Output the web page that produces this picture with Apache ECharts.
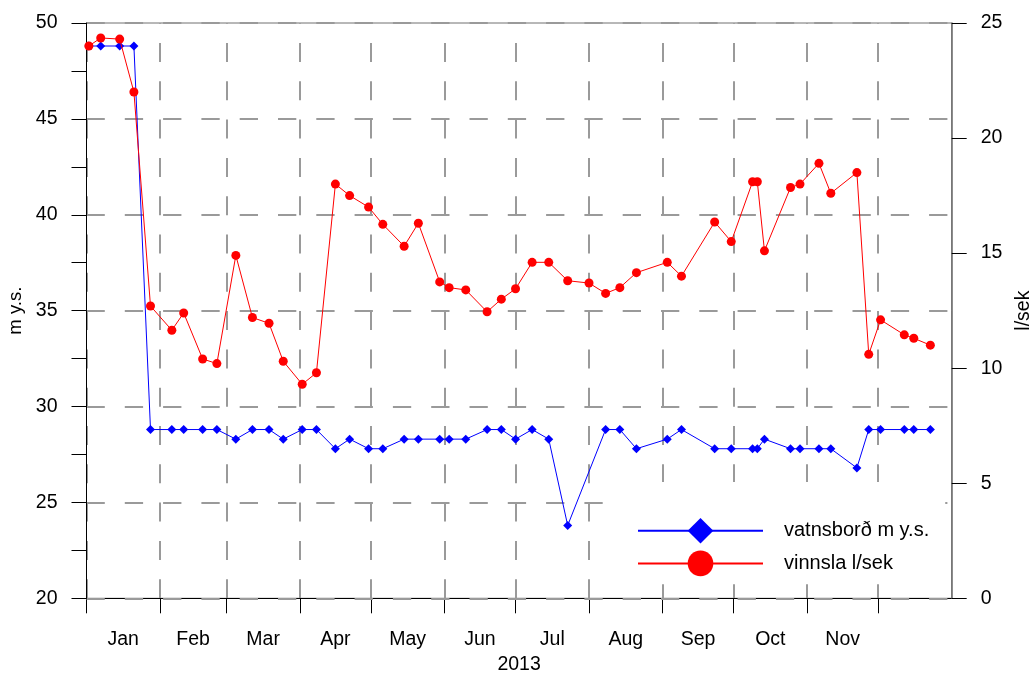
<!DOCTYPE html>
<html>
<head>
<meta charset="utf-8">
<script src="https://cdn.jsdelivr.net/npm/echarts@6/dist/echarts.min.js"></script>
<style>
html,body{margin:0;padding:0;background:#fff;}
#chart{width:1030px;height:673px;}
</style>
</head>
<body>
<div id="chart"></div>
<script>
// ---- data ----
const dates = [
  '2013-01-02','2013-01-07','2013-01-15','2013-01-21','2013-01-28',
  '2013-02-06','2013-02-11','2013-02-19','2013-02-25',
  '2013-03-05','2013-03-12','2013-03-19','2013-03-25',
  '2013-04-02','2013-04-08','2013-04-16','2013-04-22','2013-04-30',
  '2013-05-06','2013-05-15','2013-05-21','2013-05-30',
  '2013-06-03','2013-06-10','2013-06-19','2013-06-25',
  '2013-07-01','2013-07-08','2013-07-15','2013-07-23',
  '2013-08-01','2013-08-08','2013-08-14','2013-08-21',
  '2013-09-03','2013-09-09','2013-09-23','2013-09-30',
  '2013-10-09','2013-10-11','2013-10-14','2013-10-25','2013-10-29',
  '2013-11-06','2013-11-11','2013-11-22','2013-11-27',
  '2013-12-02','2013-12-12','2013-12-16','2013-12-23'
];
// vatnsborð m y.s. (left axis)
const vatnsbord = [
  48.8,48.8,48.8,48.8,28.8,
  28.8,28.8,28.8,28.8,
  28.3,28.8,28.8,28.3,
  28.8,28.8,27.8,28.3,27.8,
  27.8,28.3,28.3,28.3,
  28.3,28.3,28.8,28.8,
  28.3,28.8,28.3,23.8,
  null,28.8,28.8,27.8,
  28.3,28.8,27.8,27.8,
  27.8,27.8,28.3,27.8,27.8,
  27.8,27.8,26.8,28.8,
  28.8,28.8,28.8,28.8
];
// vinnsla l/sek (right axis)
const vinnsla = [
  24.0,24.35,24.3,22.0,12.7,
  11.65,12.4,10.4,10.2,
  14.9,12.2,11.95,10.3,
  9.3,9.8,18.0,17.5,17.0,
  16.25,15.3,16.3,13.75,
  13.5,13.4,12.45,13.0,
  13.45,14.6,14.6,13.8,
  13.7,13.25,13.5,14.15,
  14.6,14.0,16.35,15.5,
  18.1,18.1,15.1,17.85,18.0,
  18.9,17.6,18.5,10.6,
  12.1,11.45,11.3,11.0
];
const monthStarts = ['2013-01-01','2013-02-01','2013-03-01','2013-04-01','2013-05-01','2013-06-01',
  '2013-07-01','2013-08-01','2013-09-01','2013-10-01','2013-11-01','2013-12-01','2014-01-01'];
const monthLabels = ['Jan','Feb','Mar','Apr','May','Jun','Jul','Aug','Sep','Oct','Nov',''];
const xName = '2013';
const leftName = 'm y.s.';
const rightName = 'l/sek';
const seriesNames = ['vatnsborð m y.s.','vinnsla l/sek'];

// ---- build ----
const ts = s => echarts.time.parse(s).getTime();
const startTs = monthStarts.map(ts);
const tickTs = startTs.slice(0, startTs.length - 1);
const midTs = [];
for (let i = 0; i < monthLabels.length; i++) midTs.push((startTs[i] + startTs[i + 1]) / 2);
const labelFor = v => {
  for (let i = 0; i < midTs.length; i++) if (Math.abs(midTs[i] - v) < 86400000) return monthLabels[i];
  return '';
};

const FONT = 'Liberation Sans, Arial, sans-serif';
const blueData = dates.map((d, i) => [ts(d), vatnsbord[i]]);
const redData = dates.map((d, i) => [ts(d), vinnsla[i]]);

const chart = echarts.init(document.getElementById('chart'), null, {renderer: 'canvas'});
chart.setOption({
  animation: false,
  backgroundColor: '#fff',
  textStyle: {fontFamily: FONT},
  grid: {left: 86.5, right: 78.3, top: 23, bottom: 74.7, show: true, borderColor: '#707070', borderWidth: 1, outerBoundsMode: 'none', containLabel: false},
  legend: {
    left: 603, top: 482, orient: 'vertical',
    padding: [36, 16, 8, 34],
    itemWidth: 125, itemHeight: 32, itemGap: 7,
    backgroundColor: '#fff',
    textStyle: {fontFamily: FONT, fontSize: 20, color: '#000', padding: [0, 0, 0, 16]},
    data: seriesNames
  },
  xAxis: {
    type: 'value',
    min: startTs[0], max: startTs[startTs.length - 1],
    name: xName, nameLocation: 'middle', nameGap: 51,
    nameTextStyle: {fontFamily: FONT, fontSize: 19.5, color: '#000'},
    axisLine: {show: true, onZero: false, lineStyle: {color: '#000', width: 1}},
    axisTick: {show: true, length: 15, lineStyle: {color: '#000', width: 1}, customValues: tickTs},
    axisLabel: {show: true, margin: 31, fontFamily: FONT, fontSize: 19.5, color: '#000', customValues: midTs, formatter: v => labelFor(v), hideOverlap: false, showMinLabel: true, showMaxLabel: true},
    splitLine: {show: true, lineStyle: {color: '#9a9a9a', width: 2, type: [19, 19.3], dashOffset: 18.3}},
    minorTick: {show: false}
  },
  yAxis: [{
    type: 'value', position: 'left', min: 20, max: 50, interval: 5, z: 3,
    name: leftName, nameLocation: 'middle', nameGap: 56, nameRotate: 90,
    nameTextStyle: {fontFamily: FONT, fontSize: 18.5, color: '#000'},
    axisLine: {show: true, lineStyle: {color: '#000', width: 1}},
    axisTick: {show: true, length: 15, lineStyle: {color: '#000', width: 1}},
    minorTick: {show: true, splitNumber: 2, length: 15, lineStyle: {color: '#000', width: 1}},
    axisLabel: {margin: 29, fontFamily: FONT, fontSize: 19.5, color: '#000'},
    splitLine: {show: true, lineStyle: {color: '#9a9a9a', width: 2, type: [18.3, 20], dashOffset: 0}},
    minorSplitLine: {show: false}
  }, {
    type: 'value', position: 'right', min: 0, max: 25, interval: 5, z: 3,
    name: rightName, nameLocation: 'middle', nameGap: 56, nameRotate: 90,
    nameTextStyle: {fontFamily: FONT, fontSize: 19.5, color: '#000'},
    axisLine: {show: true, lineStyle: {color: '#707070', width: 1.5}},
    axisTick: {show: true, length: 15, lineStyle: {color: '#000', width: 1}},
    axisLabel: {margin: 29, fontFamily: FONT, fontSize: 19.5, color: '#000'},
    splitLine: {show: false}
  }],
  series: [{
    name: seriesNames[0], type: 'line', yAxisIndex: 0, data: blueData,
    symbol: 'diamond', symbolSize: 9, showSymbol: true, connectNulls: true,
    itemStyle: {color: '#0000ff'}, lineStyle: {color: '#0000ff', width: 1}, z: 4
  }, {
    name: seriesNames[1], type: 'line', yAxisIndex: 1, data: redData,
    symbol: 'circle', symbolSize: 9, showSymbol: true,
    itemStyle: {color: '#ff0000'}, lineStyle: {color: '#ff0000', width: 1}, z: 5
  }]
});
</script>
</body>
</html>
